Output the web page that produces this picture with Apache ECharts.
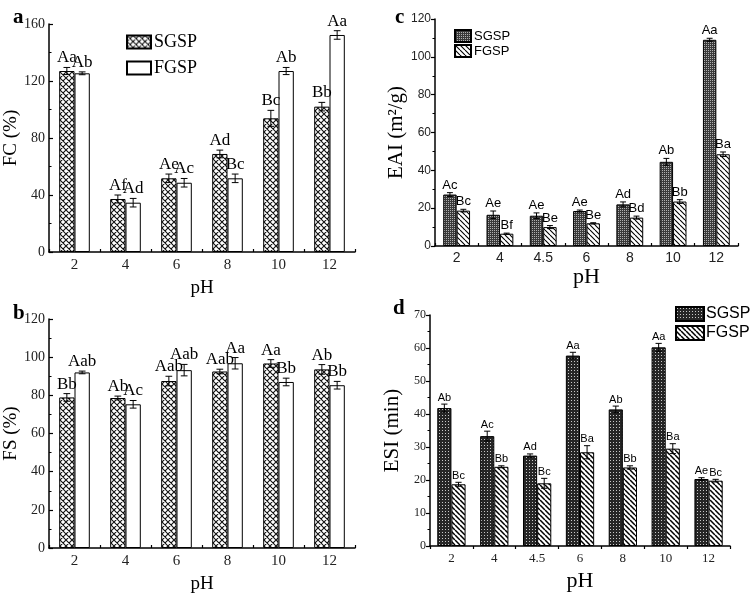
<!DOCTYPE html>
<html><head><meta charset="utf-8">
<script src="https://cdn.jsdelivr.net/npm/echarts@6/dist/echarts.min.js"></script>
<style>html,body{margin:0;padding:0;background:#fff}#c{width:751px;height:596px}</style>
</head><body><div id="c"></div>
<script>
// ---------- DATA ----------
const pH_ab = ['2', '4', '6', '8', '10', '12'];
const pH_cd = ['2', '4', '4.5', '6', '8', '10', '12'];

const fcSGSP = [127, 37.2, 51.7, 68.8, 93.8, 102];
const fcSGSPErr = [2.5, 2.8, 3, 2.7, 5.6, 3];
const fcSGSPLab = ['Aa', 'Af', 'Ae', 'Ad', 'Bc', 'Bb'];
const fcFGSP = [125.4, 34.6, 48.6, 51.7, 127, 152.3];
const fcFGSPErr = [1, 3, 3, 3, 2.5, 3];
const fcFGSPLab = ['Ab', 'Ad', 'Ac', 'Bc', 'Ab', 'Aa'];

const fsSGSP = [78.9, 78.6, 87.5, 92.5, 96.7, 93.6];
const fsSGSPErr = [2, 1, 2.5, 1.2, 2, 2.5];
const fsSGSPLab = ['Bb', 'Ab', 'Aab', 'Aab', 'Aa', 'Ab'];
const fsFGSP = [92, 75.3, 93.2, 96.8, 87, 85.3];
const fsFGSPErr = [0.7, 2, 3, 3, 2, 2];
const fsFGSPLab = ['Aab', 'Ac', 'Aab', 'Aa', 'Bb', 'Bb'];

const eaiSGSP = [27.2, 16.5, 16, 18.5, 22, 44.5, 109];
const eaiSGSPErr = [1, 2, 1.5, 0.5, 1.3, 1.8, 0.8];
const eaiSGSPLab = ['Ac', 'Ae', 'Ae', 'Ae', 'Ad', 'Ab', 'Aa'];
const eaiFGSP = [18.7, 6.5, 10, 12, 15, 23.5, 48.5];
const eaiFGSPErr = [0.7, 0.3, 0.8, 0.3, 0.8, 1, 1.2];
const eaiFGSPLab = ['Bc', 'Bf', 'Be', 'Be', 'Bd', 'Bb', 'Ba'];

const esiSGSP = [41.8, 33.3, 27.4, 57.7, 41.4, 60.2, 20.3];
const esiSGSPErr = [1.2, 1.5, 0.5, 1, 1, 1.2, 0.4];
const esiSGSPLab = ['Ab', 'Ac', 'Ad', 'Aa', 'Ab', 'Aa', 'Ae'];
const esiFGSP = [18.7, 24, 19, 28.4, 23.8, 29.5, 19.8];
const esiFGSPErr = [0.6, 0.3, 1.5, 2, 0.5, 1.5, 0.4];
const esiFGSPLab = ['Bc', 'Bb', 'Bc', 'Ba', 'Bb', 'Ba', 'Bc'];

// ---------- PATTERNS ----------
function makeCanvas(s, draw) {
  const c = document.createElement('canvas');
  c.width = s; c.height = s;
  const g = c.getContext('2d');
  draw(g, s);
  return { image: c, repeat: 'repeat' };
}
const crossPat = makeCanvas(6, (g, s) => {
  g.fillStyle = '#fff'; g.fillRect(0, 0, s, s);
  g.strokeStyle = '#111'; g.lineWidth = 1.1;
  g.beginPath();
  for (let o = -s; o <= s; o += s) {
    g.moveTo(o, 0); g.lineTo(o + s, s);
    g.moveTo(o + s, 0); g.lineTo(o, s);
  }
  g.stroke();
});
const dotPatC = makeCanvas(2, (g, s) => {
  g.fillStyle = '#3a3a3a'; g.fillRect(0, 0, s, s);
  g.fillStyle = '#b0b0b0'; g.fillRect(0, 0, 1, 1);
});
const dotPatD = makeCanvas(3, (g, s) => {
  g.fillStyle = '#262626'; g.fillRect(0, 0, s, s);
  g.fillStyle = '#c8c8c8'; g.fillRect(1, 1, 1, 1);
});
function diagPat(s, lw) {
  return makeCanvas(s, (g, s) => {
    g.fillStyle = '#fff'; g.fillRect(0, 0, s, s);
    g.strokeStyle = '#000'; g.lineWidth = lw;
    g.beginPath();
    for (let o = -s; o <= s; o += s) { g.moveTo(o, 0); g.lineTo(o + s, s); }
    g.stroke();
  });
}
const diagPatC = diagPat(5, 1.1);
const diagPatD = diagPat(5, 1.5);

// ---------- HELPERS ----------
const SERIF = "'Liberation Serif','Times New Roman',serif";
const SANS = "'Liberation Sans',Arial,sans-serif";

function barSeries(name, gi, vals, fill, frac) {
  return {
    type: 'bar', name: name, xAxisIndex: gi, yAxisIndex: gi,
    data: vals, barWidth: (frac * 100) + '%', barGap: '0%',
    itemStyle: { color: fill, borderColor: '#000', borderWidth: 1 },
    emphasis: { disabled: true }, z: 2
  };
}
function errSeries(name, gi, vals, errs, labs, frac, sign, font) {
  return {
    type: 'custom', name: name, xAxisIndex: gi, yAxisIndex: gi, z: 5, silent: true,
    data: vals.map((v, i) => [i, v - errs[i], v + errs[i]]),
    encode: { x: 0, y: [1, 2] },
    renderItem: function (params, api) {
      const i = api.value(0), lo = api.value(1), hi = api.value(2);
      const band = api.size([1, 0])[0];
      const bw = band * frac;
      const pHi = api.coord([i, hi]), pLo = api.coord([i, lo]);
      const cx = pHi[0] + sign * bw / 2;
      const cap = bw * 0.22;
      const st = { stroke: '#000', lineWidth: 1 };
      return {
        type: 'group', children: [
          { type: 'line', shape: { x1: cx, y1: pHi[1], x2: cx, y2: pLo[1] }, style: st },
          { type: 'line', shape: { x1: cx - cap, y1: pHi[1], x2: cx + cap, y2: pHi[1] }, style: st },
          { type: 'line', shape: { x1: cx - cap, y1: pLo[1], x2: cx + cap, y2: pLo[1] }, style: st },
          { type: 'text', x: cx, y: pHi[1] - 1,
            style: { text: labs[params.dataIndex], align: 'center', verticalAlign: 'bottom', font: font, fill: '#000' } }
        ]
      };
    }
  };
}
function yAx(gi, max, interval, name, o) {
  return {
    type: 'value', gridIndex: gi, min: 0, max: max, interval: interval,
    name: name, nameLocation: 'middle', nameGap: o.nameGap,
    nameTextStyle: { fontFamily: SERIF, fontSize: o.nameSize, color: '#000' },
    axisLine: { show: true, lineStyle: { color: '#000', width: 1.5 } },
    axisTick: { show: true, inside: o.inside, length: 4, lineStyle: { color: '#000', width: 1.2 } },
    minorTick: { show: true, splitNumber: 2, length: 2.5, lineStyle: { color: '#000', width: 1 } },
    splitLine: { show: false },
    axisLabel: { fontFamily: o.labFont, fontSize: o.labSize, color: '#222', margin: o.margin }
  };
}
function xAx(gi, data, o) {
  return {
    type: 'category', gridIndex: gi, data: data,
    name: 'pH', nameLocation: 'middle', nameGap: o.nameGap,
    nameTextStyle: { fontFamily: SERIF, fontSize: o.nameSize, color: '#000' },
    axisLine: { show: true, lineStyle: { color: '#000', width: 1.5 } },
    axisTick: { show: true, inside: o.inside, length: 3, lineStyle: { color: '#000', width: 1.2 } },
    axisLabel: { fontFamily: o.labFont, fontSize: o.labSize, color: '#222', margin: o.margin },
    splitLine: { show: false }
  };
}
const nameFmt = n => n.split('_')[0];

const chart = echarts.init(document.getElementById('c'), null, { renderer: 'canvas' });
chart.setOption({
  animation: false,
  backgroundColor: '#fff',
  title: [
    { text: 'a', left: 8, top: 2, textStyle: { fontFamily: SERIF, fontWeight: 'bold', fontSize: 21, color: '#000' } },
    { text: 'b', left: 8, top: 298, textStyle: { fontFamily: SERIF, fontWeight: 'bold', fontSize: 21, color: '#000' } },
    { text: 'c', left: 390, top: 2, textStyle: { fontFamily: SERIF, fontWeight: 'bold', fontSize: 21, color: '#000' } },
    { text: 'd', left: 388, top: 293, textStyle: { fontFamily: SERIF, fontWeight: 'bold', fontSize: 21, color: '#000' } }
  ],
  legend: [
    { data: ['SGSP_a', 'FGSP_a'], formatter: nameFmt, orient: 'vertical', left: 121, top: 28, icon: 'rect',
      itemWidth: 24, itemHeight: 13, itemGap: 8, selectedMode: false,
      textStyle: { fontFamily: SERIF, fontSize: 18, color: '#000', padding: [0, 0, 0, -2] } },
    { data: ['SGSP_c', 'FGSP_c'], formatter: nameFmt, orient: 'vertical', left: 449, top: 24, icon: 'rect',
      itemWidth: 16, itemHeight: 12, itemGap: 1, selectedMode: false,
      textStyle: { fontFamily: SANS, fontSize: 13, color: '#000', padding: [0, 0, 0, -2] } },
    { data: ['SGSP_d', 'FGSP_d'], formatter: nameFmt, orient: 'vertical', left: 670, top: 301, icon: 'rect',
      itemWidth: 28, itemHeight: 14, itemGap: 3, selectedMode: false,
      textStyle: { fontFamily: SANS, fontSize: 16, color: '#000', padding: [0, 0, 0, -3] } }
  ],
  grid: [
    { left: 49, top: 24, width: 306, height: 228 },
    { left: 49, top: 319, width: 306, height: 229 },
    { left: 435, top: 19, width: 303, height: 227 },
    { left: 430, top: 315, width: 300, height: 231 }
  ],
  xAxis: [
    xAx(0, pH_ab, { nameGap: 27, nameSize: 19, inside: true, labFont: SERIF, labSize: 15, margin: 6 }),
    xAx(1, pH_ab, { nameGap: 27, nameSize: 19, inside: true, labFont: SERIF, labSize: 15, margin: 6 }),
    xAx(2, pH_cd, { nameGap: 15, nameSize: 22, inside: true, labFont: SANS, labSize: 14, margin: 5 }),
    xAx(3, pH_cd, { nameGap: 24, nameSize: 22, inside: false, labFont: SERIF, labSize: 13, margin: 6 })
  ],
  yAxis: [
    yAx(0, 160, 40, 'FC (%)', { nameGap: 26, nameSize: 19, inside: true, labFont: SERIF, labSize: 14, margin: 4 }),
    yAx(1, 120, 20, 'FS (%)', { nameGap: 26, nameSize: 19, inside: true, labFont: SERIF, labSize: 14, margin: 4 }),
    yAx(2, 120, 20, 'EAI (m²/g)', { nameGap: 27, nameSize: 21, inside: false, labFont: SANS, labSize: 12, margin: 4 }),
    yAx(3, 70, 10, 'ESI (min)', { nameGap: 27, nameSize: 21, inside: false, labFont: SERIF, labSize: 12, margin: 4 })
  ],
  series: [
    barSeries('SGSP_a', 0, fcSGSP, crossPat, 0.30),
    barSeries('FGSP_a', 0, fcFGSP, '#fff', 0.30),
    errSeries('eSa', 0, fcSGSP, fcSGSPErr, fcSGSPLab, 0.30, -1, '17px ' + SERIF),
    errSeries('eFa', 0, fcFGSP, fcFGSPErr, fcFGSPLab, 0.30, 1, '17px ' + SERIF),

    barSeries('SGSP_b', 1, fsSGSP, crossPat, 0.30),
    barSeries('FGSP_b', 1, fsFGSP, '#fff', 0.30),
    errSeries('eSb', 1, fsSGSP, fsSGSPErr, fsSGSPLab, 0.30, -1, '17px ' + SERIF),
    errSeries('eFb', 1, fsFGSP, fsFGSPErr, fsFGSPLab, 0.30, 1, '17px ' + SERIF),

    barSeries('SGSP_c', 2, eaiSGSP, dotPatC, 0.31),
    barSeries('FGSP_c', 2, eaiFGSP, diagPatC, 0.31),
    errSeries('eSc', 2, eaiSGSP, eaiSGSPErr, eaiSGSPLab, 0.31, -1, '13px ' + SANS),
    errSeries('eFc', 2, eaiFGSP, eaiFGSPErr, eaiFGSPLab, 0.31, 1, '13px ' + SANS),

    barSeries('SGSP_d', 3, esiSGSP, dotPatD, 0.33),
    barSeries('FGSP_d', 3, esiFGSP, diagPatD, 0.33),
    errSeries('eSd', 3, esiSGSP, esiSGSPErr, esiSGSPLab, 0.33, -1, '11px ' + SANS),
    errSeries('eFd', 3, esiFGSP, esiFGSPErr, esiFGSPLab, 0.33, 1, '11px ' + SANS)
  ]
});
</script>
</body></html>
